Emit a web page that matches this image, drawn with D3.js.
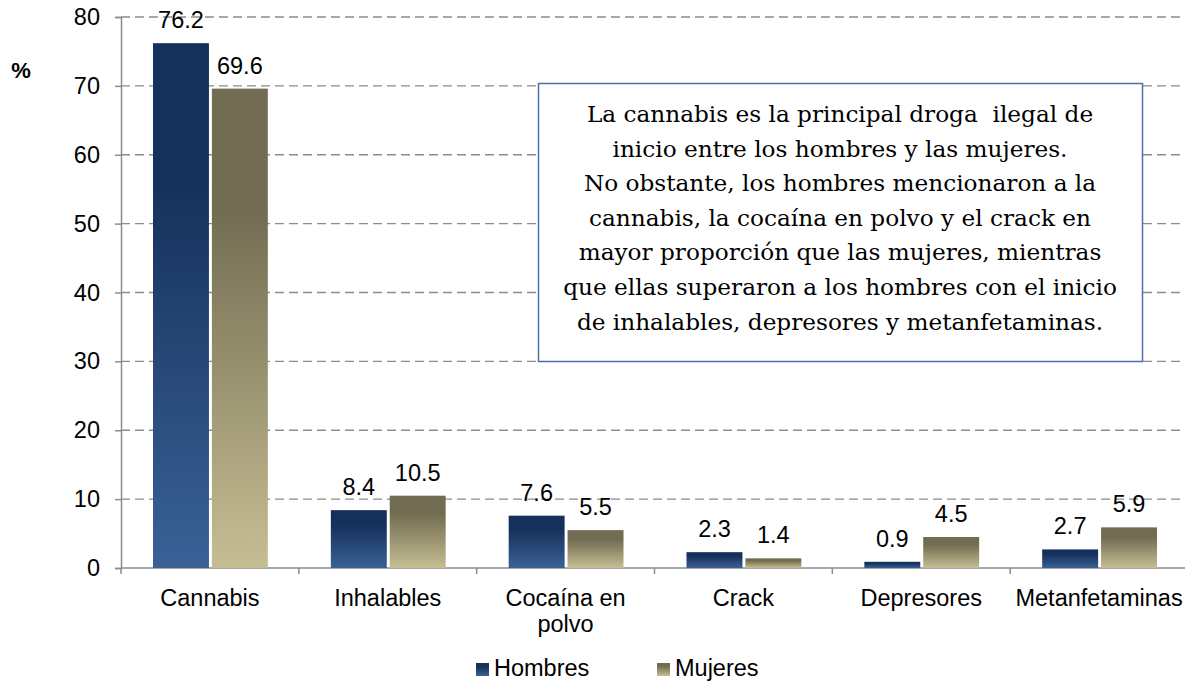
<!DOCTYPE html>
<html>
<head>
<meta charset="utf-8">
<script src="https://cdn.jsdelivr.net/npm/d3@7"></script>
<style>
  body { margin: 0; background: #fff; }
  text { font-family: "Liberation Sans", Arial, sans-serif; fill: #000; }
</style>
</head>
<body>
<div id="chart"></div>
<script>
const categories = [["Cannabis"], ["Inhalables"], ["Cocaína en", "polvo"], ["Crack"], ["Depresores"], ["Metanfetaminas"]];
const hombres = [76.2, 8.4, 7.6, 2.3, 0.9, 2.7];
const mujeres = [69.6, 10.5, 5.5, 1.4, 4.5, 5.9];
const seriesNames = ["Hombres", "Mujeres"];
const yTicks = [0, 10, 20, 30, 40, 50, 60, 70, 80];
const noteLines = [
  "La cannabis es la principal droga  ilegal de",
  "inicio entre los hombres y las mujeres.",
  "No obstante, los hombres mencionaron a la",
  "cannabis, la cocaína en polvo y el crack en",
  "mayor proporción que las mujeres, mientras",
  "que ellas superaron a los hombres con el inicio",
  "de inhalables, depresores y metanfetaminas."
];

const config = { width: 1185, height: 681, left: 121, right: 1188, top: 17, bottom: 568 };
const fontSize = "23.5px";

const svg = d3.select("#chart").append("svg")
  .attr("width", config.width)
  .attr("height", config.height);

const defs = svg.append("defs");
const grads = [
  { id: "gH", top: "#15305a", bottom: "#3a6196" },
  { id: "gM", top: "#726c52", bottom: "#c6be93" }
];
grads.forEach(g => {
  const lg = defs.append("linearGradient").attr("id", g.id)
    .attr("x1", 0).attr("y1", 0).attr("x2", 0).attr("y2", 1);
  lg.append("stop").attr("offset", "0%").attr("stop-color", g.top);
  lg.append("stop").attr("offset", "25%").attr("stop-color", g.top);
  lg.append("stop").attr("offset", "100%").attr("stop-color", g.bottom);
});

const idx = d3.range(categories.length);
const xScale = d3.scaleBand().domain(idx).range([config.left, config.right]).paddingInner(0).paddingOuter(0);
const xInner = d3.scaleBand().domain([0, 1]).range([32, xScale.bandwidth() - 31]).paddingInner(0.05);
const yScale = d3.scaleLinear().domain([0, 80]).range([config.bottom, config.top]);

// gridlines
svg.append("g").selectAll("line")
  .data(yTicks.filter(d => d > 0))
  .enter().append("line")
  .attr("x1", config.left).attr("x2", config.right)
  .attr("y1", d => yScale(d)).attr("y2", d => yScale(d))
  .attr("stroke", "#8c8c8c").attr("stroke-width", 1.3)
  .attr("stroke-dasharray", "9,5");

// y axis
const yAxis = svg.append("g")
  .attr("transform", `translate(${config.left},0)`)
  .call(d3.axisLeft(yScale).tickValues(yTicks).tickSize(6).tickPadding(15));
yAxis.select(".domain").attr("stroke", "#8c8c8c").attr("stroke-width", 1.5);
yAxis.selectAll(".tick line").attr("stroke", "#8c8c8c").attr("stroke-width", 1.5);
yAxis.selectAll(".tick text").style("font-size", fontSize).style("font-family", "Liberation Sans, Arial, sans-serif").attr("fill", "#000");

// x axis
const xAxis = svg.append("g")
  .attr("transform", `translate(0,${config.bottom})`);
xAxis.append("line").attr("x1", config.left).attr("x2", config.right)
  .attr("stroke", "#8c8c8c").attr("stroke-width", 1.5);
xAxis.selectAll(".xt").data(d3.range(categories.length + 1)).enter().append("line")
  .attr("x1", d => config.left + d * xScale.step()).attr("x2", d => config.left + d * xScale.step())
  .attr("y1", 0).attr("y2", 6)
  .attr("stroke", "#8c8c8c").attr("stroke-width", 1.5);
const xl = xAxis.selectAll(".xl").data(idx).enter().append("text")
  .attr("text-anchor", "middle")
  .attr("x", d => xScale(d) + xScale.bandwidth() / 2)
  .style("font-size", fontSize);
xl.selectAll("tspan").data(d => categories[d]).enter().append("tspan")
  .attr("x", function() { return d3.select(this.parentNode).attr("x"); })
  .attr("y", (d, i) => 38 + i * 26)
  .text(d => d);

// bars
const series = [hombres, mujeres];
series.forEach((vals, s) => {
  const g = svg.append("g");
  g.selectAll("rect").data(vals).enter().append("rect")
    .attr("x", (d, i) => xScale(i) + xInner(s))
    .attr("width", xInner.bandwidth())
    .attr("y", d => yScale(d))
    .attr("height", d => yScale(0) - yScale(d))
    .attr("fill", `url(#${grads[s].id})`);
  g.selectAll("text").data(vals).enter().append("text")
    .attr("text-anchor", "middle")
    .attr("x", (d, i) => xScale(i) + xInner(s) + xInner.bandwidth() / 2)
    .attr("y", d => yScale(d) - 15)
    .style("font-size", fontSize)
    .text(d => d.toFixed(1));
});

// % label
svg.append("text").attr("x", 21).attr("y", 78).attr("text-anchor", "middle")
  .style("font-size", "22px").style("font-weight", "bold").text("%");

// note box
svg.append("rect").attr("x", 538.5).attr("y", 83.5).attr("width", 604).attr("height", 278)
  .attr("fill", "#fff").attr("stroke", "#4a72a6").attr("stroke-width", 1.5);
svg.append("g").selectAll("text").data(noteLines).enter().append("text")
  .attr("x", 840).attr("y", (d, i) => 122 + i * 34.6)
  .attr("text-anchor", "middle")
  .style("white-space", "pre")
  .style("font-family", "DejaVu Serif, Liberation Serif, serif")
  .style("font-size", "23.2px")
  .text(d => d);

// legend
const legend = svg.append("g").attr("transform", "translate(476,663)");
seriesNames.forEach((name, i) => {
  const lg = legend.append("g").attr("transform", `translate(${i * 181},0)`);
  lg.append("rect").attr("width", 13).attr("height", 13).attr("fill", `url(#${grads[i].id})`);
  lg.append("text").attr("x", 18).attr("y", 13).style("font-size", fontSize).text(name);
});
</script>
</body>
</html>
